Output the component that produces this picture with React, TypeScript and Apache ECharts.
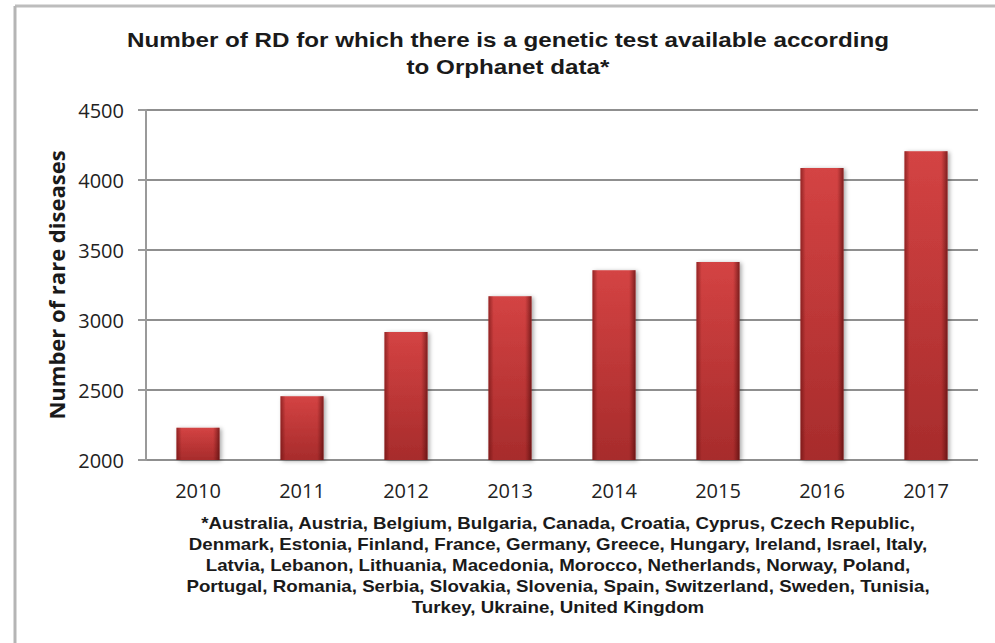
import React, { useEffect, useRef } from "react";
import * as echarts from "echarts";

const years = ["2010", "2011", "2012", "2013", "2014", "2015", "2016", "2017"];
const diseaseCounts = [2230, 2455, 2915, 3170, 3355, 3415, 4085, 4205];
const yTicks = { min: 2000, max: 4500, interval: 500 };
const titleLines = [
  "Number of RD for which there is a genetic test available according",
  "to Orphanet data*",
];
const footnoteLines = [
  "*Australia, Austria, Belgium, Bulgaria, Canada, Croatia, Cyprus, Czech Republic,",
  "Denmark, Estonia, Finland, France, Germany, Greece, Hungary, Ireland, Israel, Italy,",
  "Latvia, Lebanon, Lithuania, Macedonia, Morocco, Netherlands, Norway, Poland,",
  "Portugal, Romania, Serbia, Slovakia, Slovenia, Spain, Switzerland, Sweden, Tunisia,",
  "Turkey, Ukraine, United Kingdom",
];
const yAxisName = "Number of rare diseases";

export default function App() {
  const ref = useRef<HTMLDivElement>(null);
  useEffect(() => {
    if (!ref.current) return;
    const chart = echarts.init(ref.current, null, { renderer: "svg" });
    const titleFont = "Liberation Sans, Arial, sans-serif";
    const graphics: any[] = [
      { type: "line", shape: { x1: 15, y1: 6, x2: 995, y2: 6 }, style: { stroke: "#bdbdbd", lineWidth: 3 } },
      { type: "line", shape: { x1: 15, y1: 6, x2: 15, y2: 643 }, style: { stroke: "#b5b5b5", lineWidth: 3 } },
    ];
    titleLines.forEach((t, i) => {
      graphics.push({
        type: "text",
        x: 508,
        y: 40 + i * 27,
        scaleX: 1.21,
        style: {
          text: t,
          font: `bold 20px ${titleFont}`,
          fill: "#1a1a1a",
          align: "center",
          verticalAlign: "middle",
        },
      });
    });
    footnoteLines.forEach((t, i) => {
      graphics.push({
        type: "text",
        x: 558,
        y: 523 + i * 21,
        scaleX: 1.17,
        style: {
          text: t,
          font: `bold 16px ${titleFont}`,
          fill: "#1a1a1a",
          align: "center",
          verticalAlign: "middle",
        },
      });
    });
    chart.setOption({
      animation: false,
      backgroundColor: "#ffffff",
      grid: { left: 146, right: 17, top: 110, bottom: 183, containLabel: false },
      xAxis: {
        type: "category",
        data: years,
        axisLine: { show: false },
        axisTick: { show: false },
        axisLabel: { fontFamily: "Open Sans", fontSize: 20, color: "#222", margin: 20 },
      },
      yAxis: {
        type: "value",
        min: yTicks.min,
        max: yTicks.max,
        interval: yTicks.interval,
        name: yAxisName,
        nameLocation: "middle",
        nameRotate: 90,
        nameGap: 76,
        nameTextStyle: { fontFamily: "Open Sans", fontWeight: "bold", fontSize: 22, color: "#1a1a1a" },
        axisLine: { show: true, lineStyle: { color: "#9a9a9a", width: 2 } },
        axisTick: { show: true, length: 8, lineStyle: { color: "#9a9a9a", width: 2 } },
        axisLabel: {
          fontFamily: "Open Sans",
          fontSize: 20,
          color: "#222",
          margin: 22,
          formatter: (v: number) => String(v),
        },
        splitLine: { show: true, lineStyle: { color: "#8f8f8f", width: 2 } },
      },
      series: [
        {
          type: "bar",
          data: diseaseCounts,
          barWidth: 43,
          itemStyle: {
            color: new echarts.graphic.LinearGradient(0, 0, 0, 1, [
              { offset: 0, color: "#da4646" },
              { offset: 1, color: "#ab2d2d" },
            ]),
            shadowColor: "rgba(0,0,0,0.35)",
            shadowBlur: 4,
            shadowOffsetX: 2,
            shadowOffsetY: 1,
          },
        },
        {
          type: "bar",
          data: diseaseCounts,
          barWidth: 43,
          barGap: "-100%",
          silent: true,
          itemStyle: {
            color: new echarts.graphic.LinearGradient(0, 0, 1, 0, [
              { offset: 0, color: "rgba(90,10,10,0.55)" },
              { offset: 0.12, color: "rgba(90,10,10,0.05)" },
              { offset: 0.85, color: "rgba(90,10,10,0.05)" },
              { offset: 1, color: "rgba(60,5,5,0.6)" },
            ]),
          },
        },
      ],
      graphic: graphics,
    });
    return () => chart.dispose();
  }, []);
  return <div ref={ref} style={{ width: 995, height: 643, position: "absolute", left: 0, top: 0 }} />;
}
